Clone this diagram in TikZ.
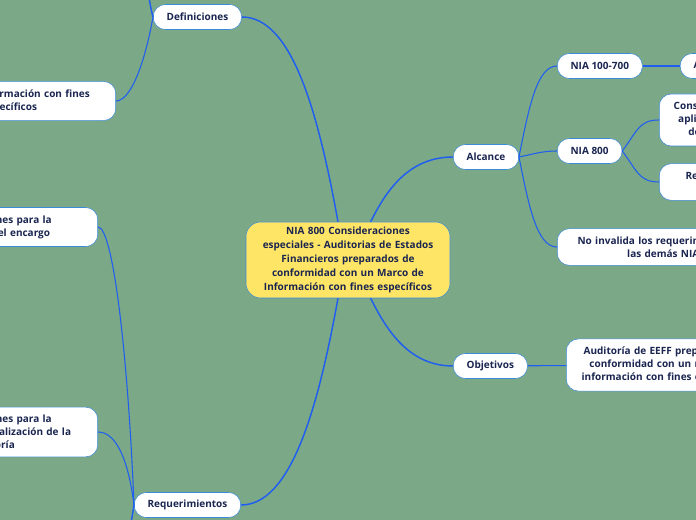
\documentclass[tikz,border=0pt]{standalone}
\usepackage{fontspec}
\setmainfont{Open Sans}
\usepackage{xcolor}
\usepackage{tikz}
\usetikzlibrary{positioning}

\definecolor{mapbg}{HTML}{7BA987}
\definecolor{linkblue}{HTML}{1F5EF0}
\definecolor{nodeedge}{HTML}{3C8BD8}
\definecolor{textnavy}{HTML}{1A2550}
\definecolor{rootfill}{HTML}{FFE566}

\begin{document}
\begin{tikzpicture}[
    x=0.75pt, y=-0.75pt,
    topic/.style={rectangle, rounded corners=9pt, draw=nodeedge, fill=white, text=textnavy, font=\bfseries\fontsize{7.5}{9.75}\selectfont, minimum height=18.75pt, inner xsep=10pt, inner ysep=3pt},
    wide/.style={topic, text width=147pt, align=center, inner xsep=6pt, inner ysep=6pt},
    root/.style={topic, fill=rootfill, rounded corners=11pt, text width=133pt, align=center, minimum width=153pt, minimum height=57pt, font=\bfseries\fontsize{7.5}{10.5}\selectfont},
    branch/.style={draw=linkblue, line width=1.1pt},
    twig/.style={draw=linkblue, line width=0.8pt}
]
    \useasboundingbox (0,0) rectangle (696,520);
    \fill[mapbg] (0,0) rectangle (696,520);

    \node (root) [root] at (348,260) {NIA 800 Consideraciones\\especiales - Auditorias de Estados\\Financieros preparados de\\conformidad con un Marco de\\Información con fines específicos};

    % left side
    \node (defs) [topic, anchor=west] at (153,17) {Definiciones};
    \node (reqs) [topic, anchor=west] at (134,505) {Requerimientos};
    \node (marco) [wide, anchor=east] at (116,101) {Marco de información con fines\\específicos};
    \node (acept) [wide, anchor=east] at (98,227) {Consideraciones para la\\aceptación del encargo};
    \node (realiz) [wide, anchor=east] at (98,432) {Consideraciones para la\\planificación y realización de la\\auditoría};
    \coordinate (defsup) at (147,-30);
    \coordinate (reqsdown) at (129,545);

    % right side
    \node (alc) [topic, anchor=west] at (453,157) {Alcance};
    \node (obj) [topic, anchor=west] at (453,366) {Objetivos};
    \node (niaall) [topic, anchor=west] at (557,66) {NIA 100-700};
    \node (nia800) [topic, anchor=west] at (557,151) {NIA 800};
    \node (aplica) [topic, right=28pt of niaall] {Aplicables};
    \node (consid) [wide, text width=133pt, anchor=west] at (659,120) {Consideraciones especiales en la\\aplicación de las NIA 100-700 a\\de estos tipos de auditoría};
    \node (relev) [wide, text width=140pt, anchor=west] at (659,182) {Relevancia de requerimientos\\de las NIA};
    \node (noinv) [wide, anchor=west] at (557,247) {No invalida los requerimientos de\\las demás NIA};
    \node (audit) [wide, text width=137pt, anchor=west] at (566,365) {Auditoría de EEFF preparados de\\conformidad con un marco de\\información con fines específicos};

    \draw [branch] ([xshift=-7.5pt]root.north) .. controls +(-20,-110) and +(50,0) .. (defs.east);
    \draw [branch] ([xshift=-7.5pt]root.south) .. controls +(-20,110) and +(50,0) .. (reqs.east);
    \draw [branch] ([xshift=17pt]root.north) .. controls +(15,-30) and +(-45,0) .. (alc.west);
    \draw [branch] ([xshift=17pt]root.south) .. controls +(15,30) and +(-45,0) .. (obj.west);

    \draw [branch] (defs.west) .. controls +(-4,-15) and +(0,15) .. (defsup);
    \draw [twig] (defs.west) .. controls +(-8,45) and +(15,0) .. (marco.east);
    \draw [twig] (reqs.west) .. controls +(-6,-150) and +(15,0) .. (acept.east);
    \draw [twig] (reqs.west) .. controls +(-5,-40) and +(20,0) .. (realiz.east);
    \draw [branch] (reqs.west) .. controls +(-3,20) and +(0,-15) .. (reqsdown);

    \draw [twig] (alc.east) .. controls +(10,-50) and +(-20,0) .. (niaall.west);
    \draw [twig] (alc.east) .. controls +(15,-3) and +(-15,0) .. (nia800.west);
    \draw [twig] (alc.east) .. controls +(10,50) and +(-20,0) .. (noinv.west);
    \draw [twig] (nia800.east) .. controls +(15,-20) and +(-20,0) .. (consid.west);
    \draw [twig] (nia800.east) .. controls +(15,20) and +(-20,0) .. (relev.west);
    \draw [branch] (niaall) -- (aplica);
    \draw [twig] (obj) -- (audit);
\end{tikzpicture}
\end{document}
